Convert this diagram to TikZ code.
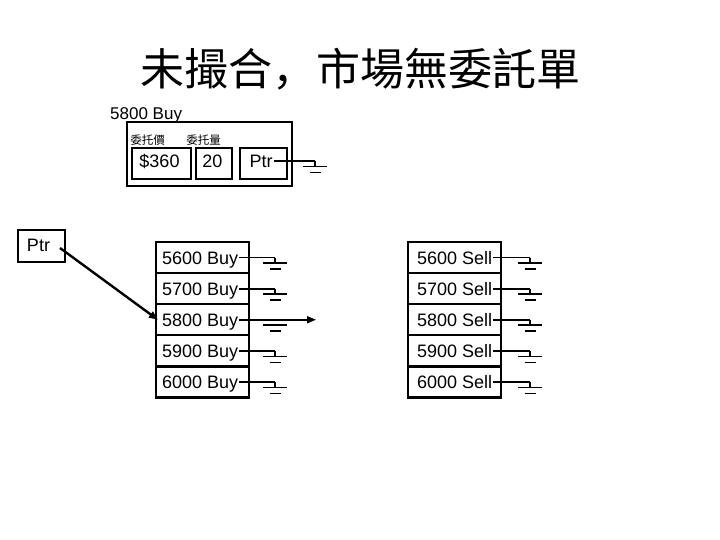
\documentclass[tikz,border=0pt]{standalone}
\usepackage{fontspec}
\setmainfont{Liberation Sans}
\newfontfamily\cjk{Noto Sans CJK TC}
\newfontfamily\cjksc{Noto Sans CJK SC}
\usetikzlibrary{arrows.meta}
\begin{document}
\begin{tikzpicture}[x=1pt,y=-1pt,
  box/.style={draw, line width=2.2pt, inner sep=0pt},
  wire/.style={line width=1.7pt},
  txt/.style={font=\fontsize{18}{20}\selectfont, inner sep=1pt, text height=12.9pt, text depth=0pt},
  small/.style={font=\cjk\fontsize{11.5}{12}\selectfont, inner sep=0pt},
  gnd/.pic={\draw[wire] (0,0) -- (0,5.5);
            \draw[wire] (-12,5.5) -- (12,5.5);
            \draw[wire] (-5.5,11.5) -- (5.5,11.5);},
  gndbars/.pic={\draw[wire] (-12,5.5) -- (12,5.5);
            \draw[wire] (-5.5,11.5) -- (5.5,11.5);},
  tip/.style={-{Triangle[length=9pt,width=7pt]}}
]
\useasboundingbox[fill=white] (0,0) rectangle (720,540);

% title
\node[font=\fontsize{44}{48}\selectfont, inner sep=0pt] (title) at (360,69)
  {{\cjk 未撮合}{\cjksc ，}{\cjk 市場無委託單}};

% record box
\node[txt, font=\fontsize{17}{19}\selectfont, anchor=west] (rec) at (109,113.5) {5800 Buy};
\node[box, minimum width=165pt, minimum height=64pt] (recbox) at (209.5,154) {};
\node[small] (lprice) at (147.5,140) {委托價};
\node[small] (lqty) at (203.5,140) {委托量};
\node[box, minimum width=59pt, minimum height=31pt] (price) at (161.5,163.5) {};
\node[txt] (pricet) at (159.5,161.5) {\$360};
\node[box, minimum width=36pt, minimum height=31pt] (qty) at (214,163.5) {};
\node[txt] (qtyt) at (212.5,161.5) {20};
\node[box, minimum width=47pt, minimum height=31pt] (pbox) at (263.5,163.5) {};
\node[txt] (ptxt) at (261,161) {Ptr};
\coordinate (pg) at (315,161);
\draw[wire] (ptxt.east) -- (pg);
\pic at (pg) {gnd};

% left pointer
\node[box, minimum width=47pt, minimum height=32pt] (lptr) at (41.5,246) {};
\node[txt] (lptrt) at (38.5,245) {Ptr};
\coordinate (asrc) at (60,248);

% stacks
\foreach \i/\p in {1/5600,2/5700,3/5800,4/5900,5/6000} {
  \pgfmathsetmacro\yy{242+31.1*(\i-0.5)}
  \node[box, minimum width=93pt, minimum height=31.1pt] (b\i) at (202.5,\yy) {};
  \node[txt, anchor=west] (bt\i) at (161,\yy) {\p{} Buy};
  \node[box, minimum width=93pt, minimum height=31.1pt] (s\i) at (454.5,\yy) {};
  \node[txt, anchor=west] (st\i) at (416,\yy) {\p{} Sell};
  \coordinate (sg\i) at (530,\yy);
  \draw[wire] (st\i.east) -- (sg\i);
  \pic at (sg\i) {gnd};
  \coordinate (bg\i) at (275,\yy);
  \ifnum\i=3
    \coordinate (bout) at (316,\yy);
    \draw[wire, tip] (bt\i.east) -- (bout);
    \pic at (bg\i) {gndbars};
  \else
    \draw[wire] (bt\i.east) -- (bg\i);
    \pic at (bg\i) {gnd};
  \fi
}

\draw[line width=2.4pt, tip] (asrc) -- ([xshift=3pt]b3.west);
\end{tikzpicture}
\end{document}
